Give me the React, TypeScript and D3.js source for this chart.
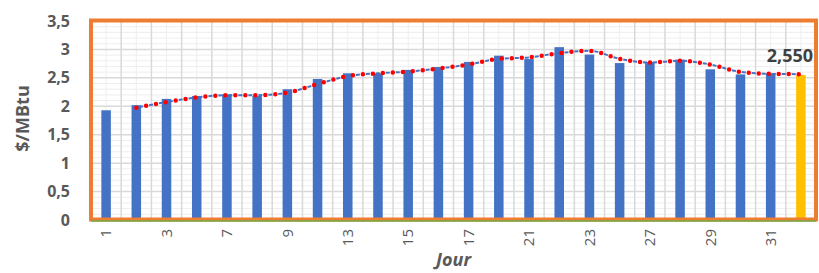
import React from 'react';
import * as d3 from 'd3';

// data
const days = ['1', '2', '3', '6', '7', '8', '9', '10', '13', '14', '15', '16', '17', '20', '21', '22', '23', '24', '27', '28', '29', '30', '31', ''];
const prices = [1.93, 2.02, 2.13, 2.18, 2.21, 2.18, 2.3, 2.48, 2.58, 2.58, 2.64, 2.69, 2.78, 2.89, 2.83, 3.04, 2.91, 2.76, 2.78, 2.82, 2.65, 2.56, 2.58, 2.55];
// moving average trend (starts on 2nd day)
const trend = [null, 1.975, 2.075, 2.155, 2.195, 2.195, 2.24, 2.39, 2.53, 2.58, 2.61, 2.665, 2.735, 2.835, 2.86, 2.935, 2.975, 2.835, 2.77, 2.8, 2.735, 2.605, 2.57, 2.565];
const yTicks = [0, 0.5, 1, 1.5, 2, 2.5, 3, 3.5];
const lastLabel = '2,550';

const W = 819;
const H = 273;
const left = 91;
const right = 816;
const top = 21;
const bottom = 220;

const gray = '#595959';
const font = '"Open Sans", "Liberation Sans", sans-serif';

export default function App() {
  const x = d3.scaleBand().domain(days).range([left, right]).paddingInner(0.685).paddingOuter(0.3425);
  const step = x.step();
  const y = d3.scaleLinear().domain([0, 3.5]).range([bottom, top]);
  const cx = (i: number) => (x(days[i]) as number) + x.bandwidth() / 2;
  const fmt = (v: number) => String(v).replace('.', ',');

  const minorY = d3.range(0, 3.51, 0.1).filter((v) => Math.abs(v * 2 - Math.round(v * 2)) > 0.01);

  const line = d3
    .line<number | null>()
    .defined((d) => d != null)
    .x((d, i) => cx(i))
    .y((d) => y(d as number))
    .curve(d3.curveMonotoneX);
  const trendPath = line(trend) || '';

  const lastI = days.length - 1;

  return (
    <svg width={W} height={H} style={{ position: 'absolute', left: 0, top: 0, background: '#fff' }} fontFamily={font}>
      {/* minor grid */}
      {minorY.map((v) => (
        <line key={'mh' + v} x1={left} x2={right} y1={y(v)} y2={y(v)} stroke='#eeeeee' strokeWidth={1} />
      ))}
      {days.map((d, i) => (
        <line key={'mv' + i} x1={cx(i)} x2={cx(i)} y1={top} y2={bottom} stroke='#eeeeee' strokeWidth={1} />
      ))}
      {/* major grid */}
      {yTicks.map((v) => (
        <line key={'h' + v} x1={left} x2={right} y1={y(v)} y2={y(v)} stroke='#d9d9d9' strokeWidth={1.5} />
      ))}
      {days.map((d, i) => (
        <line key={'v' + i} x1={left + step * i} x2={left + step * i} y1={top} y2={bottom} stroke='#d9d9d9' strokeWidth={1.5} />
      ))}
      {/* bars */}
      {prices.map((v, i) => (
        <rect
          key={'b' + i}
          x={x(days[i])}
          y={y(v)}
          width={x.bandwidth()}
          height={y(0) - y(v)}
          fill={i === lastI ? '#FFC000' : '#4472C4'}
        />
      ))}
      {/* trend */}
      <path d={trendPath} fill='none' stroke='#4472C4' strokeWidth={2} strokeDasharray='4 6' strokeDashoffset={-3} />
      <path d={trendPath} fill='none' stroke='#FF0000' strokeWidth={4.5} strokeLinecap='round' strokeDasharray='0 10' />
      {/* frame */}
      <rect x={left} y={top - 0.5} width={right - left} height={bottom - top} fill='none' stroke='#ED7D31' strokeWidth={4} />
      <line x1={left} x2={right} y1={bottom + 1} y2={bottom + 1} stroke='#70AD47' strokeWidth={1.5} />
      {/* y ticks */}
      {yTicks.map((v) => (
        <text key={'yt' + v} x={70} y={y(v)} dy='0.35em' textAnchor='end' fontSize={16} fontWeight='bold' fill={gray}>
          {fmt(v)}
        </text>
      ))}
      {/* x ticks */}
      {days.map((d, i) =>
        i % 2 === 0 ? (
          <text
            key={'xt' + i}
            transform={`translate(${cx(i)},${229}) rotate(-90)`}
            dy='0.35em'
            textAnchor='end'
            fontSize={15}
            fill={gray}
          >
            {d}
          </text>
        ) : null
      )}
      {/* titles */}
      <text transform={`translate(23,${(top + bottom) / 2 - 2}) rotate(-90)`} dy='0.35em' textAnchor='middle' fontSize={18} fontWeight='bold' fill={gray}>
        $/MBtu
      </text>
      <text x={(left + right) / 2} y={266} textAnchor='middle' fontSize={18} fontWeight='bold' fontStyle='italic' fill={gray}>
        Jour
      </text>
      <text x={cx(lastI) - 11} y={y(prices[lastI]) - 13} textAnchor='middle' fontSize={18} fontWeight='bold' fill='#404040'>
        {lastLabel}
      </text>
    </svg>
  );
}
